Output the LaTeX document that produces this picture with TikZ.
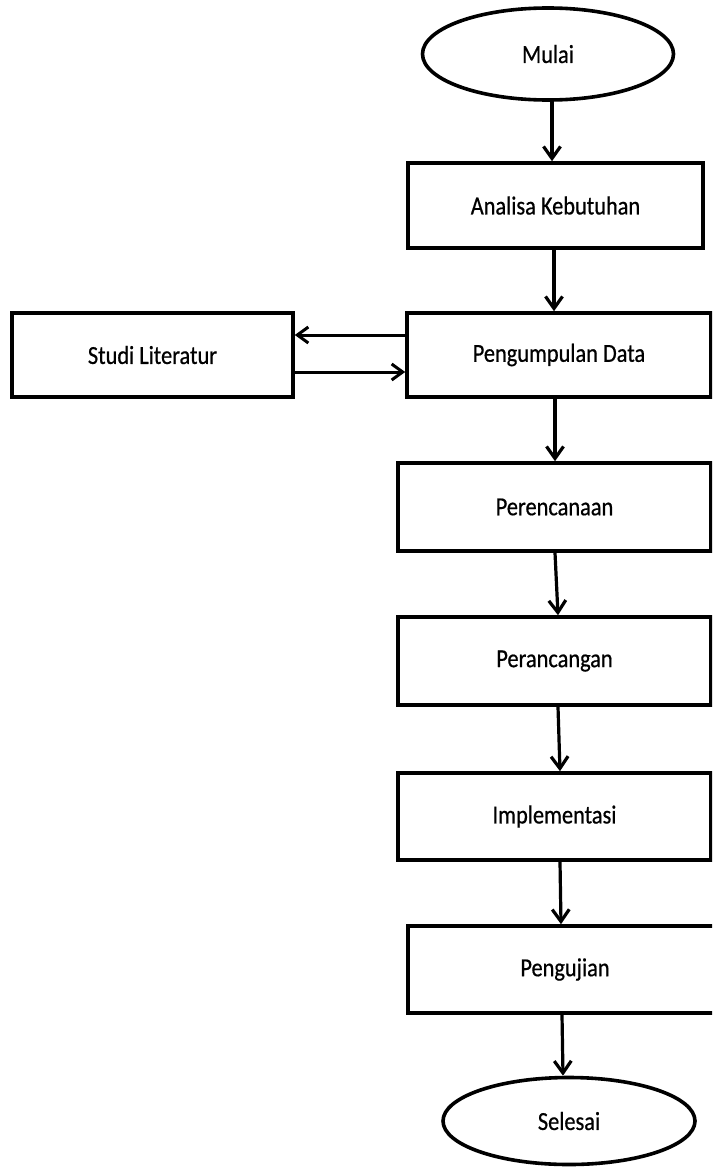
\documentclass[tikz,border=0pt]{standalone}
\usepackage{fontspec}
\newfontfamily\lbl[FakeStretch=0.86,FakeBold=0.6]{Carlito}
\usetikzlibrary{shapes.geometric,arrows.meta}
\tikzset{
  procbox/.style={draw=black, line width=3.6pt, fill=white, rectangle, inner sep=0pt,
    font=\lbl\fontsize{26}{30}\selectfont},
  termnode/.style={draw=black, line width=3.6pt, fill=white, ellipse, inner sep=0pt,
    font=\lbl\fontsize{26}{30}\selectfont},
  flow/.style={line width=3.2pt, -{Straight Barb[length=12pt,width=17pt]}},
  sideflow/.style={line width=3pt, -{Straight Barb[length=11pt,width=16pt]}}
}
\begin{document}
\begin{tikzpicture}[x=1pt,y=-1pt]
\path[use as bounding box] (0,0) rectangle (712,1167);
\clip (0,0) rectangle (712,1167);
\fill[white] (0,0) rectangle (712,1167);

\node[termnode, minimum width=251pt, minimum height=92pt] (mulai) at (548,54) {Mulai};
\node[procbox, minimum width=295pt, minimum height=85pt] (analisa) at (555.5,205.5) {Analisa Kebutuhan};
\node[procbox, minimum width=304pt, minimum height=84pt] (data) at (559,355) {Pengumpulan Data};
\node[procbox, minimum width=281pt, minimum height=84pt] (studi) at (152.5,355) {Studi Literatur};
\node[procbox, minimum width=313pt, minimum height=88pt] (rencana) at (554.5,507) {Perencanaan};
\node[procbox, minimum width=313pt, minimum height=88pt] (rancang) at (554.5,661) {Perancangan};
\node[procbox, minimum width=313pt, minimum height=87pt] (impl) at (554.5,816.5) {Implementasi};
\node[procbox, minimum width=314pt, minimum height=87pt] (uji) at (565,969.5) {Pengujian};
\node[termnode, minimum width=252pt, minimum height=87pt] (selesai) at (569,1121) {Selesai};

\draw[flow] ([xshift=4pt]mulai.south) -- ([xshift=-3.5pt]analisa.north);
\draw[flow] ([xshift=-1.5pt]analisa.south) -- ([xshift=-5pt]data.north);
\draw[sideflow] ([yshift=20pt]data.west) -- ([yshift=20pt]studi.east);
\draw[sideflow] ([yshift=-17pt]studi.east) -- ([yshift=-17pt]data.west);
\draw[flow] ([xshift=-4pt]data.south) -- ([xshift=0.5pt]rencana.north);
\draw[flow] ([xshift=0.5pt]rencana.south) -- ([xshift=3.5pt]rancang.north);
\draw[flow] ([xshift=3.5pt]rancang.south) -- ([xshift=5.5pt]impl.north);
\draw[flow] ([xshift=5.5pt]impl.south) -- ([xshift=-4pt]uji.north);
\draw[flow] ([xshift=-3pt]uji.south) -- ([xshift=-6pt]selesai.north);
\end{tikzpicture}
\end{document}
